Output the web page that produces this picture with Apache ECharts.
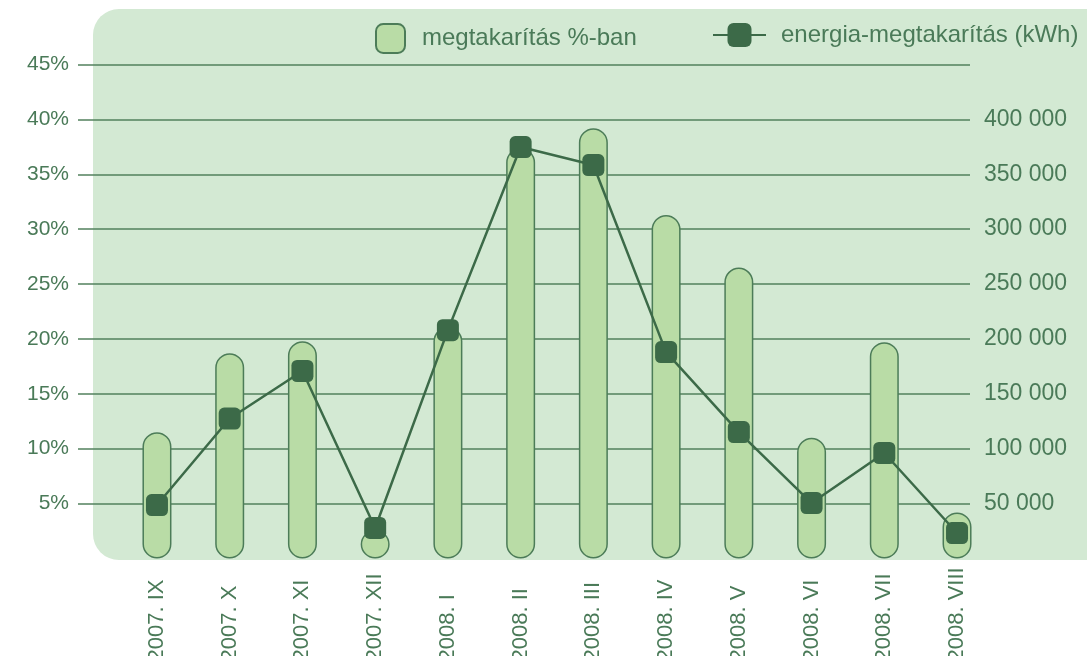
<!DOCTYPE html>
<html>
<head>
<meta charset="utf-8">
<script src="https://cdn.jsdelivr.net/npm/echarts@6/dist/echarts.min.js"></script>
<style>
  html, body { margin: 0; padding: 0; background: #fff; }
  #chart { width: 1087px; height: 656px; }
</style>
</head>
<body>
<div id="chart"></div>
<script>
const months = ['2007. IX', '2007. X', '2007. XI', '2007. XII', '2008. I', '2008. II',
  '2008. III', '2008. IV', '2008. V', '2008. VI', '2008. VII', '2008. VIII'];
// megtakarítás %-ban
const savingPct = [11.5, 18.7, 19.8, 2.6, 21.1, 37.4, 39.2, 31.3, 26.5, 11.0, 19.7, 4.2];
// energia-megtakarítás (kWh)
const savingKwh = [48700, 127500, 170800, 27800, 208000, 374800, 358400, 188000, 115200, 50500, 96100, 23200];

const pctTicks = { min: 5, max: 45, step: 5 };
const kwhTicks = { min: 50000, max: 450000, step: 50000 };

const textColor = '#4a7a58';
const lineColor = '#52805d';
const dark = '#3c6a48';
const font = 'Liberation Sans';

const fmtKwh = v => v >= kwhTicks.max ? '' : String(v).replace(/\B(?=(\d{3})+(?!\d))/g, ' ');

const chart = echarts.init(document.getElementById('chart'));

const option = {
  animation: false,
  graphic: [{
    type: 'rect',
    z: -10,
    silent: true,
    shape: { x: 93, y: 9, width: 1030, height: 551, r: 26 },
    style: { fill: '#d3e9d3' }
  }],
  legend: [
    {
      data: [{ name: 'megtakarítás %-ban', icon: 'roundRect' }],
      left: 370, top: 18,
      itemWidth: 29, itemHeight: 29,
      textStyle: { color: textColor, fontSize: 24, fontFamily: font, padding: [0, 0, 0, 12] }
    },
    {
      data: ['energia-megtakarítás (kWh)'],
      left: 707, top: 18,
      itemWidth: 53, itemHeight: 30,
      textStyle: { color: textColor, fontSize: 24, fontFamily: font, padding: [0, 0, 0, 10] }
    }
  ],
  grid: [
    // grid for horizontal lines and axis labels
    { left: 78, right: 117, top: 64.5, height: 439, outerBoundsMode: 'none', containLabel: false },
    // grid for the data
    { left: 120.6, right: 93.6, top: 64.5, height: 494, outerBoundsMode: 'none', containLabel: false }
  ],
  xAxis: [
    { type: 'category', gridIndex: 0, data: months, show: false },
    {
      type: 'category', gridIndex: 1, data: months,
      axisLine: { show: false }, axisTick: { show: false },
      axisLabel: {
        rotate: 90, align: 'left', verticalAlign: 'middle', margin: 103,
        color: textColor, fontSize: 22, fontFamily: font
      }
    }
  ],
  yAxis: [
    {
      type: 'value', gridIndex: 0, position: 'left',
      min: pctTicks.min, max: pctTicks.max, interval: pctTicks.step,
      axisLine: { show: false }, axisTick: { show: false },
      axisLabel: { formatter: '{value}%', color: textColor, fontSize: 21, fontFamily: font, margin: 9 },
      splitLine: { show: true, lineStyle: { color: lineColor, width: 1.5 } }
    },
    {
      type: 'value', gridIndex: 0, position: 'right',
      min: kwhTicks.min, max: kwhTicks.max, interval: kwhTicks.step,
      axisLine: { show: false }, axisTick: { show: false },
      axisLabel: { formatter: fmtKwh, color: textColor, fontSize: 23, fontFamily: font, margin: 14 },
      splitLine: { show: false }
    },
    { type: 'value', gridIndex: 1, min: 0, max: pctTicks.max, show: false, splitLine: { show: false } },
    { type: 'value', gridIndex: 1, min: 0, max: kwhTicks.max, show: false, splitLine: { show: false } }
  ],
  series: [
    {
      name: 'megtakarítás %-ban',
      type: 'bar',
      xAxisIndex: 1, yAxisIndex: 2,
      data: savingPct,
      barWidth: 29,
      itemStyle: { color: '#b9dca6', borderColor: '#4c7c58', borderWidth: 1.5, borderRadius: 14.5 }
    },
    {
      name: 'energia-megtakarítás (kWh)',
      type: 'line',
      xAxisIndex: 1, yAxisIndex: 3,
      data: savingKwh,
      symbol: 'roundRect',
      symbolSize: 22,
      lineStyle: { color: dark, width: 2.5 },
      itemStyle: { color: dark }
    }
  ]
};

chart.setOption(option);
</script>
</body>
</html>
